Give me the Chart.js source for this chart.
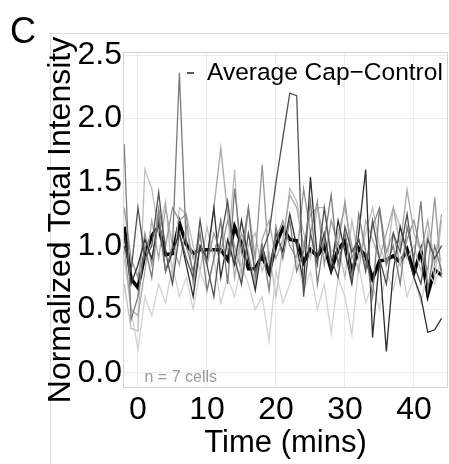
<!DOCTYPE html>
<html><head><meta charset="utf-8">
<script src="https://cdn.jsdelivr.net/npm/chart.js@4.4.1/dist/chart.umd.min.js"></script>
<style>html,body{margin:0;padding:0;background:#fff;}#wrap{width:449px;height:464px;}</style>
</head><body><div id="wrap"><canvas id="c" width="449" height="464"></canvas></div>
<script>
// Time points (mins)
const time = [-2,-1,0,1,2,3,4,5,6,7,8,9,10,11,12,13,14,15,16,17,18,19,20,21,22,23,24,25,26,27,28,29,30,31,32,33,34,35,36,37,38,39,40,41,42,43,44];
// Average Cap-Control
const average = [1.15,0.74,0.67,0.93,1.08,1.15,0.93,0.94,1.18,1.01,0.94,0.97,0.97,0.97,0.97,0.89,1.15,1.02,0.82,0.82,0.92,0.79,1.01,1.14,1.05,1.04,0.87,0.97,0.92,1.0,0.81,0.97,1.04,0.79,0.98,0.92,0.74,0.88,0.89,0.92,0.87,0.97,0.79,0.96,0.62,0.81,0.77];
// Individual cells (n = 7)
const cell1 = [1.0,0.8,1.3,0.9,1.0,1.42,0.95,0.7,1.1,0.9,0.75,1.2,0.85,0.6,1.05,1.35,0.9,0.7,1.1,0.8,0.95,1.1,1.5,1.85,2.2,2.18,0.6,1.1,0.85,1.3,0.9,0.75,1.15,0.95,1.05,0.8,1.2,0.9,0.7,1.1,0.95,1.25,0.85,0.7,1.05,0.9,1.0];
const cell2 = [1.8,0.42,0.6,1.0,0.75,1.25,0.8,1.0,2.36,1.0,0.8,1.1,0.65,0.9,1.2,0.7,1.45,0.95,1.3,0.75,1.0,0.65,1.15,0.9,1.2,0.8,0.95,1.35,0.7,1.05,1.4,0.85,1.1,0.75,1.25,0.95,0.6,1.3,0.85,1.0,0.7,1.15,0.9,1.35,0.65,1.0,0.8];
const cell3 = [1.1,0.7,0.85,1.05,0.9,1.2,0.8,0.95,1.1,0.85,0.6,1.0,0.9,1.3,0.75,1.05,0.85,1.2,0.9,0.65,1.0,0.8,1.1,0.95,1.25,1.0,0.7,1.54,0.9,1.1,0.8,1.2,0.95,0.7,1.1,1.6,0.28,0.9,0.17,0.8,1.15,0.95,0.75,0.6,0.32,0.34,0.43];
const cell4 = [1.0,0.5,0.45,0.8,1.2,0.9,1.3,1.0,0.85,1.15,0.9,1.0,0.85,1.3,1.77,1.25,0.75,1.1,0.95,0.7,1.05,1.2,0.9,1.05,1.4,1.3,1.0,1.25,1.3,1.05,0.85,1.1,1.3,1.0,0.8,1.2,1.05,0.9,1.1,1.3,1.0,1.44,1.1,0.95,1.2,0.85,1.25];
const cell5 = [0.9,0.5,0.18,0.6,0.45,0.7,0.55,0.85,0.6,0.75,0.5,0.8,0.65,0.9,0.55,0.75,0.6,0.85,0.7,0.5,0.6,0.25,0.8,0.55,0.7,0.9,0.65,0.8,0.5,0.7,0.31,0.75,0.6,0.3,0.85,0.55,0.7,0.5,0.8,0.65,0.9,0.6,0.75,0.55,0.8,0.7,0.9];
const cell6 = [1.3,0.9,0.75,1.1,0.85,1.3,1.0,1.3,1.2,1.25,0.7,1.0,0.85,1.1,0.95,1.2,1.0,0.8,1.3,0.9,1.64,0.85,1.05,1.2,1.0,0.9,1.45,1.1,1.35,0.85,1.2,1.0,1.35,0.9,1.05,0.85,1.15,1.3,0.95,1.1,0.85,1.05,1.2,0.95,0.8,1.38,0.75];
const cell7 = [0.7,0.35,0.33,1.6,1.45,1.1,1.35,0.75,1.3,1.25,1.0,0.8,1.15,0.9,1.2,0.95,1.6,0.7,1.0,1.1,0.8,0.95,0.6,1.0,1.45,1.35,1.1,0.9,1.3,1.3,0.95,1.0,0.75,1.2,0.9,1.1,1.3,1.0,0.85,1.3,1.15,0.9,1.0,0.8,1.1,0.75,1.2];
// Axis ticks
const xTicks = [0,10,20,30,40];
const yTicks = [0,0.5,1,1.5,2,2.5];
const yTickLabels = ["0.0","0.5","1.0","1.5","2.0","2.5"];
const legendLabel = "Average Cap\u2212Control";
const annotationText = "n = 7 cells";

const cells = [cell1,cell2,cell3,cell4,cell5,cell6,cell7];
const cellColors = ['#505050','#7a7a7a','#2e2e2e','#a8a8a8','#d2d2d2','#959595','#bdbdbd'];
const FONT = "'Liberation Sans', Arial, Helvetica, sans-serif";
const pts = arr => arr.map((v,i)=>({x: time[i], y: v}));

const datasets = cells.map((c,i)=>({
  label: 'cell '+(i+1), data: pts(c), borderColor: cellColors[i], borderWidth: 1.3,
  pointRadius: 0, tension: 0, fill: false
}));
datasets.push({label: legendLabel, data: pts(average), borderColor: '#000', borderWidth: 3.5,
  pointRadius: 0, tension: 0, fill: false, borderJoinStyle: 'miter'});

const deco = {
  id: 'deco',
  beforeDraw(chart){
    const ctx = chart.ctx;
    ctx.save();
    ctx.fillStyle = '#fff'; ctx.fillRect(0,0,chart.width,chart.height);
    ctx.strokeStyle = '#dcdcdc'; ctx.lineWidth = 1;
    ctx.beginPath(); ctx.moveTo(50, 33.5); ctx.lineTo(449, 33.5);
    ctx.moveTo(50.5, 33); ctx.lineTo(50.5, 464); ctx.stroke();
    ctx.restore();
  },
  afterDatasetsDraw(chart){
    const ctx = chart.ctx, a = chart.chartArea;
    ctx.save();
    ctx.strokeStyle = '#d4d4d4'; ctx.lineWidth = 1;
    ctx.strokeRect(a.left+0.5, a.top+0.5, a.right-a.left-1, a.bottom-a.top-1);
    ctx.restore();
  },
  afterDraw(chart){
    const ctx = chart.ctx, a = chart.chartArea, sx = chart.scales.x, sy = chart.scales.y;
    ctx.save();
    ctx.fillStyle = '#000';
    ctx.font = '36px ' + FONT; ctx.textBaseline = 'alphabetic'; ctx.textAlign = 'left';
    ctx.fillText('C', 10, 43);
    // legend
    ctx.strokeStyle = '#222'; ctx.lineWidth = 1.5;
    ctx.beginPath(); ctx.moveTo(a.left+64, a.top+21); ctx.lineTo(a.left+71, a.top+21); ctx.stroke();
    ctx.font = '24.5px ' + FONT; ctx.textBaseline = 'middle';
    ctx.fillText(legendLabel, a.left+84, a.top+21);
    // annotation
    ctx.fillStyle = '#9a9a9a'; ctx.font = '16px ' + FONT; ctx.textAlign = 'center';
    ctx.fillText(annotationText, sx.getPixelForValue(6.2), sy.getPixelForValue(0) + 5);
    ctx.restore();
  }
};

new Chart(document.getElementById('c'), {
  type: 'line',
  data: { datasets },
  options: {
    responsive: false, animation: false, devicePixelRatio: 1,
    layout: { padding: { top: 52, right: 1, left: 0, bottom: 0 } },
    plugins: { legend: { display: false }, tooltip: { enabled: false } },
    scales: {
      x: {
        type: 'linear', min: -2.17, max: 44.93,
        afterBuildTicks: s => { s.ticks = xTicks.map(v => ({value: v})); },
        afterFit: s => { s.height = 76; },
        grid: { color: '#ececec', lineWidth: 1, drawTicks: false },
        border: { display: false },
        ticks: { font: { family: FONT, size: 32 }, color: '#000', padding: 3, maxRotation: 0,
          callback: v => String(v) },
        title: { display: true, text: 'Time (mins)', color: '#000',
          font: { family: FONT, size: 31 }, padding: { top: 0, bottom: 2 } }
      },
      y: {
        type: 'linear', min: -0.118, max: 2.524,
        afterBuildTicks: s => { s.ticks = yTicks.map(v => ({value: v})); },
        afterFit: s => { s.width = 123; },
        grid: { color: '#ececec', lineWidth: 1, drawTicks: false },
        border: { display: false },
        ticks: { font: { family: FONT, size: 32 }, color: '#000', padding: 1,
          callback: (v, i) => yTickLabels[i] },
        title: { display: true, text: 'Normalized Total Intensity', color: '#000',
          font: { family: FONT, size: 32 }, padding: { top: 42, bottom: 0 } }
      }
    }
  },
  plugins: [deco]
});
</script></body></html>
